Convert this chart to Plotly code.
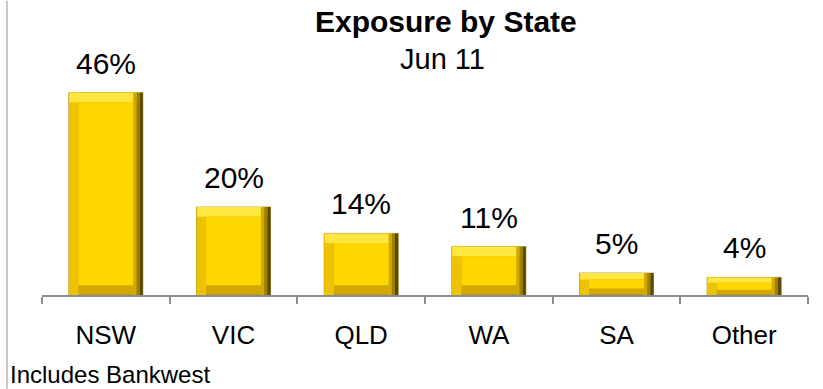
import plotly.graph_objects as go

categories = ["NSW", "VIC", "QLD", "WA", "SA", "Other"]
values = [46, 20, 14, 11, 5, 4]
labels = ["46%", "20%", "14%", "11%", "5%", "4%"]

FONT = "Liberation Sans, Arial, sans-serif"
BAR_W = 0.58
SIDE = 0.075
bev = [min(2.2, 0.3 * v) for v in values]

fig = go.Figure()


def strip(y, base, width, offset, color):
    fig.add_trace(go.Bar(
        x=categories, y=y, base=base, width=width, offset=offset,
        marker=dict(color=color, line=dict(width=0)),
        hoverinfo="skip", showlegend=False,
    ))


# outer body (bottom bevel tone)
fig.add_trace(go.Bar(
    x=categories, y=values, width=BAR_W,
    marker=dict(color="#D2A800", line=dict(color="#8A7200", width=0.6)),
    hoverinfo="x+y", showlegend=False,
))
zeros = [0] * len(values)
# left bevel
strip(values, zeros, SIDE, -BAR_W / 2, "#EDC200")
# top bevel (bright)
strip(bev, [v - b for v, b in zip(values, bev)], BAR_W - 0.01, -BAR_W / 2 + 0.005, "#FFE640")
# right bevel gradient (light -> dark)
strip(values, zeros, 0.025, BAR_W / 2 - 0.075, "#D0AA00")
strip(values, zeros, 0.025, BAR_W / 2 - 0.05, "#9E8100")
strip(values, zeros, 0.025, BAR_W / 2 - 0.025, "#5A4900")
# face
strip([v - 2 * b for v, b in zip(values, bev)], bev, BAR_W - 2 * SIDE, -BAR_W / 2 + SIDE, "#FFD700")

annotations = [
    dict(x=c, y=v, xref="x", yref="y", text=t, showarrow=False,
         yanchor="bottom", xanchor="center", yshift=11,
         font=dict(family=FONT, size=30, color="#000000"))
    for c, v, t in zip(categories, values, labels)
]
annotations += [
    dict(text="<b>Exposure by State</b>", xref="paper", yref="paper",
         x=(446 - 42) / 766, y=(295 - 21) / 220.5, xanchor="center", yanchor="middle",
         showarrow=False, font=dict(family=FONT, size=30, color="#000000")),
    dict(text="Jun 11", xref="paper", yref="paper",
         x=(442 - 42) / 766, y=(295 - 58) / 220.5, xanchor="center", yanchor="middle",
         showarrow=False, font=dict(family=FONT, size=29, color="#000000")),
    dict(text="Includes Bankwest", xref="paper", yref="paper",
         x=(8 - 42) / 766, y=(295 - 375) / 220.5, xanchor="left", yanchor="middle",
         showarrow=False, font=dict(family=FONT, size=24, color="#000000")),
]

fig.update_layout(
    width=823, height=389,
    margin=dict(l=42, r=15, t=74.5, b=94, autoexpand=False),
    paper_bgcolor="white", plot_bgcolor="white",
    barmode="overlay",
    font=dict(family=FONT, color="#000000"),
    xaxis=dict(
        showline=True, linecolor="#8c8c8c", linewidth=1.5,
        ticks="outside", tickson="boundaries", ticklen=7, tickcolor="#8c8c8c", tickwidth=1.5,
        tickfont=dict(family=FONT, size=26, color="#000000"),
        ticklabelstandoff=16, automargin=False,
        showgrid=False, zeroline=False, fixedrange=True,
    ),
    yaxis=dict(range=[0, 50], visible=False, fixedrange=True),
    annotations=annotations,
    shapes=[
        dict(type="line", xref="paper", yref="paper",
             x0=(7 - 42) / 766, x1=(7 - 42) / 766, y0=-94 / 220.5, y1=295 / 220.5,
             line=dict(color="#c8c8c8", width=2)),
    ],
)

fig.write_html("out.html", config={"displayModeBar": False},
               post_script="document.body.style.margin='0';document.body.style.overflow='hidden';")
